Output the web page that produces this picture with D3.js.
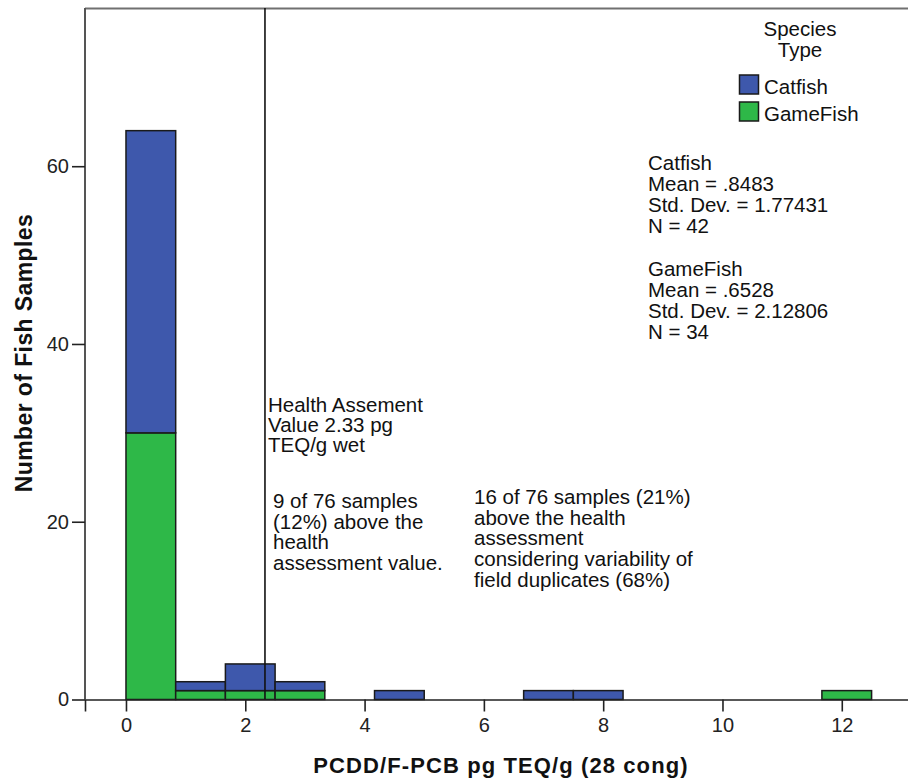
<!DOCTYPE html>
<html>
<head>
<meta charset="utf-8">
<script src="https://cdn.jsdelivr.net/npm/d3@7"></script>
<style>
  html, body { margin: 0; padding: 0; background: #fff; }
  svg { display: block; font-family: "Liberation Sans", Arial, sans-serif; }
</style>
</head>
<body>
<svg id="chart" width="908" height="780"></svg>
<script>
// ---- Data ----
const binLower = [0, 0.8333, 1.6667, 2.5, 4.1667, 6.6667, 7.5, 11.6667];
const binUpper = [0.8333, 1.6667, 2.5, 3.3333, 5.0, 7.5, 8.3333, 12.5];
const catfishCounts = [34, 1, 3, 1, 1, 1, 1, 0];
const gameFishCounts = [30, 1, 1, 1, 0, 0, 0, 1];
const seriesNames = ["Catfish", "GameFish"];
const seriesColors = ["#3e58ac", "#2eb848"];
const xTicks = [0, 2, 4, 6, 8, 10, 12];
const yTicks = [0, 20, 40, 60];
const healthValue = 2.33;
const legendTitle = ["Species", "Type"];
const statsLines = ["Catfish", "Mean = .8483", "Std. Dev. = 1.77431", "N = 42", "",
                    "GameFish", "Mean = .6528", "Std. Dev. = 2.12806", "N = 34"];
const healthLabel = ["Health Assement", "Value 2.33 pg", "TEQ/g wet"];
const note1 = ["9 of 76 samples", "(12%) above the", "health", "assessment value."];
const note2 = ["16 of 76 samples (21%)", "above the health", "assessment", "considering variability of", "field duplicates (68%)"];
const xTitle = "PCDD/F-PCB pg TEQ/g (28 cong)";
const yTitle = "Number of Fish Samples";

// ---- Layout ----
const svg = d3.select("#chart");
const pLeft = 85, pTop = 8, pBottom = 699.5;
const x = d3.scaleLinear().domain([-0.687, 13.2]).range([pLeft, pLeft + (13.2 + 0.687) * 59.65]);
const y = d3.scaleLinear().domain([0, 77.8]).range([pBottom, pTop]);

const fs = 20.5;

// frame (top and left)
svg.append("line").attr("x1", pLeft).attr("x2", 908).attr("y1", pTop + 0.5).attr("y2", pTop + 0.5)
  .attr("stroke", "#707070").attr("stroke-width", 2);
svg.append("line").attr("x1", pLeft).attr("x2", pLeft).attr("y1", pTop).attr("y2", pBottom)
  .attr("stroke", "#555").attr("stroke-width", 2);

// bars
const rows = binLower.map((lo, i) => ({lo, hi: binUpper[i], c: catfishCounts[i], g: gameFishCounts[i]}));
const gBars = svg.append("g");
rows.forEach(r => {
  if (r.g > 0) {
    gBars.append("rect")
      .attr("x", x(r.lo)).attr("width", x(r.hi) - x(r.lo))
      .attr("y", y(r.g)).attr("height", y(0) - y(r.g))
      .attr("fill", seriesColors[1]).attr("stroke", "#1a1a1a").attr("stroke-width", 1.5);
  }
  if (r.c > 0) {
    gBars.append("rect")
      .attr("x", x(r.lo)).attr("width", x(r.hi) - x(r.lo))
      .attr("y", y(r.g + r.c)).attr("height", y(r.g) - y(r.g + r.c))
      .attr("fill", seriesColors[0]).attr("stroke", "#1a1a1a").attr("stroke-width", 1.5);
  }
});

// health line
svg.append("line").attr("x1", x(healthValue)).attr("x2", x(healthValue))
  .attr("y1", pTop).attr("y2", pBottom).attr("stroke", "#111").attr("stroke-width", 1.6);

// x axis
const xAxis = svg.append("g").attr("transform", `translate(0,${pBottom})`)
  .call(d3.axisBottom(x).tickValues(xTicks).tickSize(12).tickPadding(6).tickFormat(d3.format("d")));
xAxis.select(".domain").attr("stroke", "#222").attr("stroke-width", 1.6);
xAxis.selectAll(".tick line").attr("stroke", "#222").attr("stroke-width", 1.6);
xAxis.selectAll("text").attr("font-size", 20).attr("fill", "#222").attr("font-family", "Liberation Sans, Arial, sans-serif");

// y axis
const yAxis = svg.append("g").attr("transform", `translate(${pLeft},0)`)
  .call(d3.axisLeft(y).tickValues(yTicks).tickSize(13).tickPadding(3).tickFormat(d3.format("d")));
yAxis.select(".domain").remove();
yAxis.selectAll(".tick line").attr("stroke", "#222").attr("stroke-width", 1.6);
yAxis.selectAll("text").attr("font-size", 20).attr("fill", "#222").attr("font-family", "Liberation Sans, Arial, sans-serif");

// axis titles
svg.append("text").attr("x", 501).attr("y", 773).attr("text-anchor", "middle")
  .attr("font-size", 22).attr("letter-spacing", 1.1).attr("font-weight", "bold").attr("fill", "#111").text(xTitle);
svg.append("text").attr("transform", "translate(32,353) rotate(-90)").attr("text-anchor", "middle")
  .attr("font-size", 23).attr("letter-spacing", 0.4).attr("font-weight", "bold").attr("fill", "#111").text(yTitle);

// multi-line text helper
function block(lines, x0, y0, dy, anchor) {
  const t = svg.append("text").attr("font-size", fs).attr("fill", "#111").attr("text-anchor", anchor || "start");
  lines.forEach((s, i) => {
    t.append("tspan").attr("x", x0).attr("y", y0 + i * dy).text(s);
  });
}

// legend
block(legendTitle, 800, 36, 21, "middle");
seriesNames.forEach((name, i) => {
  svg.append("rect").attr("x", 739.5).attr("y", 75 + i * 27).attr("width", 19).attr("height", 19)
    .attr("fill", seriesColors[i]).attr("stroke", "#1a1a1a").attr("stroke-width", 1.5);
  svg.append("text").attr("x", 764).attr("y", 94 + i * 27).attr("font-size", fs).attr("fill", "#111").text(name);
});

// stats
block(statsLines, 648, 169.5, 21.2);

// annotations
block(healthLabel, 268, 412, 20.2);
block(note1, 273, 508, 20.5);
block(note2, 474, 504, 20.7);
</script>
</body>
</html>
